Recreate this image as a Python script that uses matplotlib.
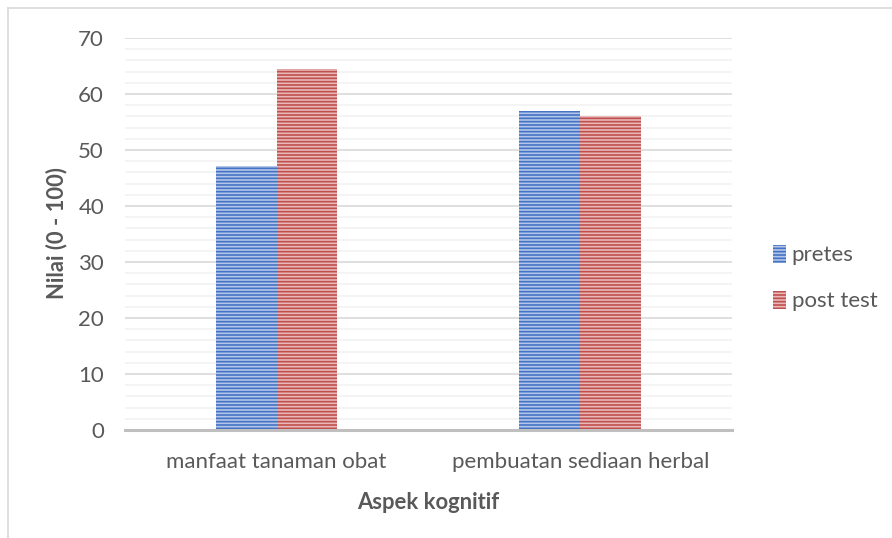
import matplotlib
matplotlib.use("Agg")
import matplotlib.pyplot as plt
from matplotlib.lines import Line2D
from matplotlib.patches import Patch
import numpy as np

categories = ["manfaat tanaman obat", "pembuatan sediaan herbal"]
pretes = [47.2, 57.0]
post_test = [64.5, 56.1]
series_names = ["pretes", "post test"]

plt.rcParams["font.family"] = ["Lato", "DejaVu Sans"]
plt.rcParams["hatch.linewidth"] = 1.2

text_color = "#595959"
blue_dark, blue_light = "#4472C4", "#B3C6E9"
red_dark, red_light = "#C0504D", "#E7B8B7"

fig = plt.figure(figsize=(8.92, 5.38), dpi=100)
ax = fig.add_axes([0.140, 0.2007, 0.6806, 0.7287])

x = np.arange(len(categories))
w = 0.2
ax.bar(x - w / 2, pretes, w, facecolor=blue_light, edgecolor=blue_dark,
       hatch="-----", linewidth=0, zorder=3)
ax.bar(x + w / 2, post_test, w, facecolor=red_light, edgecolor=red_dark,
       hatch="-----", linewidth=0, zorder=3)

ax.set_xlim(-0.5, 1.5)
ax.set_ylim(0, 70)
ax.set_yticks(np.arange(0, 71, 10))
ax.set_yticks(np.arange(0, 71, 2), minor=True)
ax.grid(axis="y", which="major", color="#D9D9D9", linewidth=1.2, zorder=0)
ax.grid(axis="y", which="minor", color="#F2F2F2", linewidth=1.2, zorder=0)
ax.tick_params(axis="y", which="both", length=0, labelsize=16,
               labelcolor=text_color, pad=15)
ax.tick_params(axis="x", length=0, labelsize=16, labelcolor=text_color, pad=16)
ax.set_xticks(x)
ax.set_xticklabels(categories)

for side in ["top", "right", "left"]:
    ax.spines[side].set_visible(False)
ax.spines["bottom"].set_color("#BFBFBF")
ax.spines["bottom"].set_linewidth(2.2)
ax.spines["bottom"].set_zorder(4)

# y label placed in figure pixels, as in the reference
fig.text(57 / 892, 1 - 233 / 538, "Nilai (0 - 100)", rotation=90,
         ha="center", va="center", fontsize=15.8, fontweight="bold",
         color=text_color)
ax.set_xlabel("Aspek kognitif", fontsize=15.8, fontweight="bold",
              color=text_color, labelpad=14)

handles = [
    Patch(facecolor=blue_light, edgecolor=blue_dark, hatch="-----", linewidth=0),
    Patch(facecolor=red_light, edgecolor=red_dark, hatch="-----", linewidth=0),
]
leg = fig.legend(handles, series_names, loc="center left",
                 bbox_to_anchor=(0.844, 0.483), frameon=False, fontsize=16,
                 handlelength=0.6, handleheight=0.85, handletextpad=0.25,
                 labelspacing=1.15, labelcolor=text_color)

# chart border (left and top edges visible)
fig.add_artist(Line2D([8 / 892, 8 / 892], [0, 1 - 8 / 538],
                      transform=fig.transFigure, color="#D9D9D9", linewidth=1.2))
fig.add_artist(Line2D([8 / 892, 1], [1 - 8 / 538, 1 - 8 / 538],
                      transform=fig.transFigure, color="#D9D9D9", linewidth=1.2))

fig.savefig("out.png", dpi=100)
